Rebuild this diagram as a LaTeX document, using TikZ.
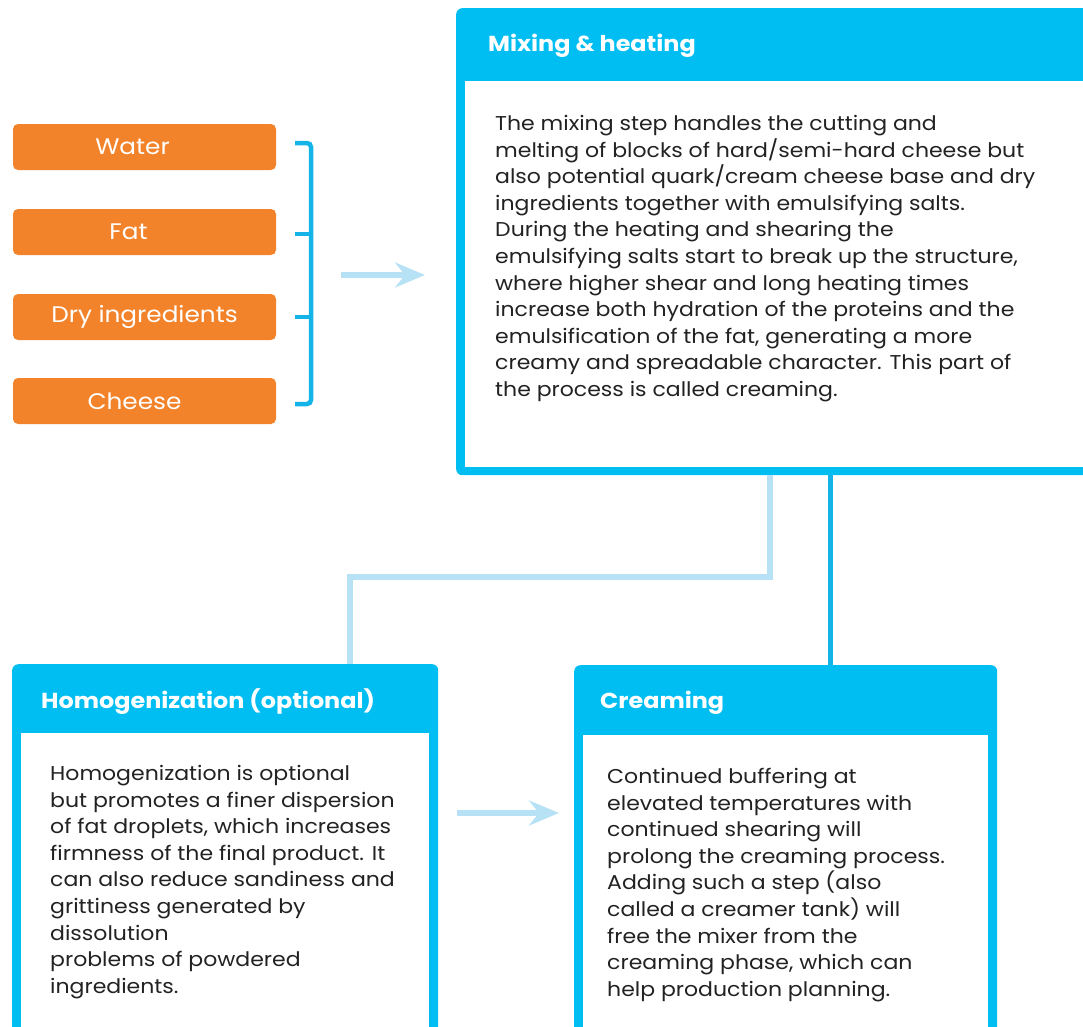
\documentclass[tikz,border=0pt]{standalone}
\usepackage{fontspec}
\setmainfont{Poppins}[FakeStretch=1.1]
\usetikzlibrary{arrows.meta,calc}
\definecolor{hdr}{HTML}{00BEF2}
\definecolor{lineblue}{HTML}{14B4E8}
\definecolor{lite}{HTML}{B7E2F6}
\definecolor{orng}{HTML}{F3832A}
\definecolor{txt}{HTML}{222222}
\begin{document}
\begin{tikzpicture}[x=1pt,y=1pt,
  ingr/.style={fill=orng, rounded corners=5pt, minimum width=263pt, minimum height=46pt, text=white, font=\fontsize{22.5}{25}\selectfont, inner sep=0},
  panel/.style={fill=hdr, rounded corners=6pt, anchor=north west, inner sep=0},
  ttl/.style={text=white, font=\fontsize{21.7}{25}\selectfont\bfseries, anchor=west, inner sep=0},
  body/.style={text=txt, font=\fontsize{20}{26.6}\selectfont, align=left, anchor=north west, inner sep=0},
  litearrow/.style={draw=lite, line width=6pt, -{Stealth[length=30pt,width=25pt,inset=10pt]}},
  liteline/.style={draw=lite, line width=6pt},
  darkline/.style={draw=lineblue, line width=5pt},
  bracket/.style={draw=lineblue, line width=4.5pt, rounded corners=4pt},
]
\useasboundingbox (0,0) rectangle (1083,-1026);
\clip (0,0) rectangle (1083,-1026);

% ingredients
\node[ingr] (water) at (144.5,-147) {Water\hspace*{24pt}};
\node[ingr] (fat) at (144.5,-232) {Fat\hspace*{32pt}};
\node[ingr] (dry) at (144.5,-317) {Dry ingredients};
\node[ingr] (cheese) at (144.5,-401) {Cheese\hspace*{20pt}};

% bracket
\coordinate (bt) at (295,-143);
\coordinate (bb) at (295,-404);
\draw[bracket] (bt) -- (311,-143) -- (311,-404) -- (bb);
\draw[bracket] (295,-234) -- (311,-234);
\draw[bracket] (295,-317) -- (311,-317);

% connector coordinates
\coordinate (lx) at (770,0);
\coordinate (hx) at (350,0);
\coordinate (dx) at (830,0);

% panels
\node[panel, minimum width=640pt, minimum height=467pt] (mix) at (456,-8) {};
\node[panel, minimum width=426pt, minimum height=420pt] (homog) at (12,-664) {};
\node[panel, minimum width=423pt, minimum height=420pt] (cream) at (574,-665) {};

% connectors
\draw[liteline] (mix.south -| lx) -- ++(0,-102) -| (homog.north -| hx);
\draw[darkline] (mix.south -| dx) -- (cream.north -| dx);

% arrows
\coordinate (a1s) at (341,-275);
\coordinate (a1e) at (425,-275);
\draw[litearrow] (a1s) -- (a1e);
\coordinate (a2s) at (457,-813);
\coordinate (a2e) at (559,-813);
\draw[litearrow] (a2s) -- (a2e);

% inner white areas
\fill[white] ($(mix.north west)+(9,-73)$) rectangle ($(mix.south east)+(-9,8)$);
\fill[white] ($(homog.north west)+(9,-69)$) rectangle ($(homog.south east)+(-9,8)$);
\fill[white] ($(cream.north west)+(9,-70)$) rectangle ($(cream.south east)+(-9,8)$);

% titles
\node[ttl] (mixt) at (488,-46) {Mixing \& heating};
\node[ttl] (homogt) at (41,-702) {Homogenization (optional)};
\node[ttl] (creamt) at (600,-703) {Creaming};

% bodies
\node[body] (mixb) at (495,-115) {The mixing step handles the cutting and\\
melting of blocks of hard/semi-hard cheese but\\
also potential quark/cream cheese base and dry\\
ingredients together with emulsifying salts.\\
During the heating and shearing the\\
emulsifying salts start to break up the structure,\\
where higher shear and long heating times\\
increase both hydration of the proteins and the\\
emulsification of the fat, generating a more\\
creamy and spreadable character. This part of\\
the process is called creaming.};

\node[body] (homogb) at (50,-765) {Homogenization is optional\\
but promotes a finer dispersion\\
of fat droplets, which increases\\
firmness of the final product. It\\
can also reduce sandiness and\\
grittiness generated by\\
dissolution\\
problems of powdered\\
ingredients.};

\node[body] (creamb) at (607,-768) {Continued buffering at\\
elevated temperatures with\\
continued shearing will\\
prolong the creaming process.\\
Adding such a step (also\\
called a creamer tank) will\\
free the mixer from the\\
creaming phase, which can\\
help production planning.};
\end{tikzpicture}
\end{document}
